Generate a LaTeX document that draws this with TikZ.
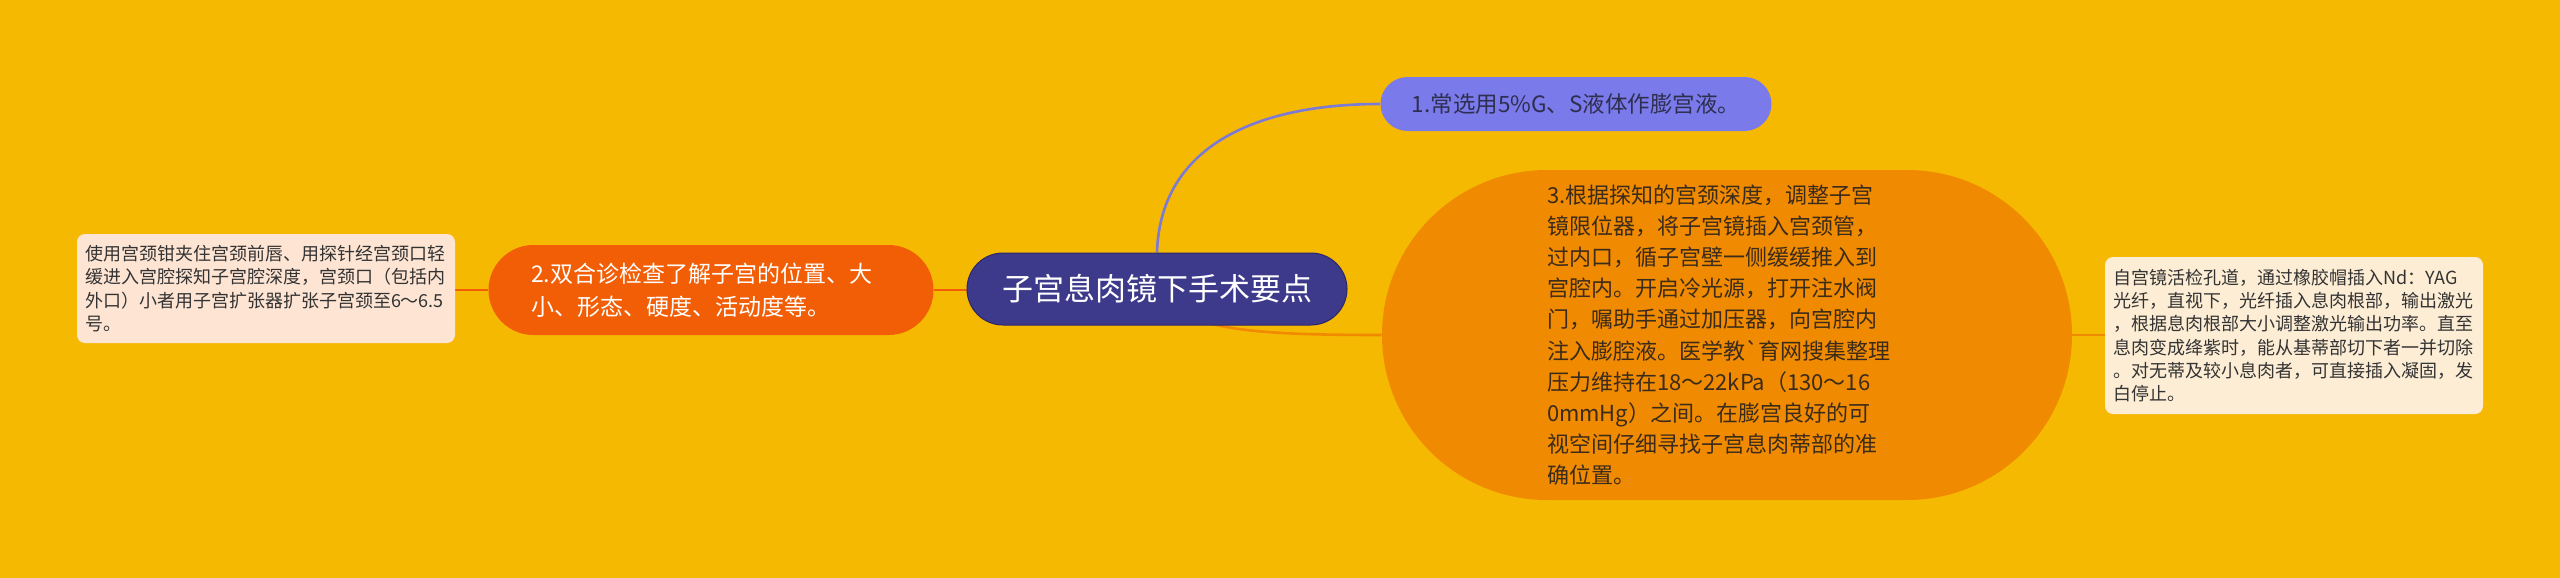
\documentclass[tikz,border=0pt]{standalone}
\usepackage{fontspec}
\newfontfamily\cjk{Noto Sans CJK SC}
\pgfdeclarelayer{bottom}
\pgfdeclarelayer{background}
\pgfsetlayers{bottom,background,main}
\definecolor{bg}{HTML}{F6B902}
\definecolor{rootc}{HTML}{3D3A8C}
\definecolor{rootb}{HTML}{2C2868}
\definecolor{onec}{HTML}{7A7AEA}
\definecolor{onet}{HTML}{2E2E50}
\definecolor{onel}{HTML}{7B7BD6}
\definecolor{twoc}{HTML}{F25E05}
\definecolor{threec}{HTML}{F08A00}
\definecolor{threet}{HTML}{3B2B1A}
\definecolor{leafl}{HTML}{FDE4D3}
\definecolor{leafr}{HTML}{FDEDD5}
\definecolor{leaft}{HTML}{333333}
\tikzset{
  pill/.style={shape=rectangle, inner sep=0pt, align=left},
  leafbox/.style={shape=rectangle, inner sep=0pt, rounded corners=4pt, align=left, text=leaft,
    text width=181pt, minimum width=189pt,
    font=\cjk\fontsize{9pt}{11.65pt}\selectfont},
  conn/.style={line width=1.3pt}
}
\begin{document}
\begin{tikzpicture}[x=0.5pt,y=-0.5pt]
\begin{pgfonlayer}{bottom}
\fill[bg] (0,0) rectangle (2560,578);
\end{pgfonlayer}
\useasboundingbox (0,0) rectangle (2560,578);

\node[pill, fill=rootc, draw=rootb, line width=0.5pt, minimum width=190pt, minimum height=36pt,
  rounded corners=18pt, text=white, align=center,
  font=\cjk\fontsize{15.5pt}{18pt}\selectfont] (root) at (1157,289) {子宫息肉镜下手术要点};

\node[pill, fill=onec, minimum width=195.5pt, minimum height=27pt, rounded corners=13.5pt,
  text=onet, align=center, font=\cjk\fontsize{11.25pt}{14pt}\selectfont] (n1) at (1576,104)
  {1.常选用5\%G、S液体作膨宫液。};

\node[pill, fill=twoc, minimum width=222.5pt, minimum height=45pt, rounded corners=22.5pt,
  text=white, text width=180pt, font=\cjk\fontsize{11.5pt}{16.5pt}\selectfont] (n2) at (711,290)
  {2.双合诊检查了解子宫的位置、大\\小、形态、硬度、活动度等。};

\node[pill, fill=threec, minimum width=345pt, minimum height=165pt, rounded corners=82.5pt,
  text=threet, text width=180pt, font=\cjk\fontsize{11pt}{15.6pt}\selectfont] (n3) at (1727,335)
  {3.根据探知的宫颈深度，调整子宫\\
   镜限位器，将子宫镜插入宫颈管，\\
   过内口，循子宫壁一侧缓缓推入到\\
   宫腔内。开启冷光源，打开注水阀\\
   门，嘱助手通过加压器，向宫腔内\\
   注入膨腔液。医学教\textasciigrave 育网搜集整理\\
   压力维持在18～22kPa（130～16\\
   0mmHg）之间。在膨宫良好的可\\
   视空间仔细寻找子宫息肉蒂部的准\\
   确位置。};

\node[leafbox, fill=leafl, minimum height=54.5pt] (l2) at (266,288.5)
  {使用宫颈钳夹住宫颈前唇、用探针经宫颈口轻\\
   缓进入宫腔探知子宫腔深度，宫颈口（包括内\\
   外口）小者用子宫扩张器扩张子宫颈至6～6.5\\
   号。};

\node[leafbox, fill=leafr, minimum height=78.5pt] (l3) at (2294,335.5)
  {自宫镜活检孔道，通过橡胶帽插入Nd：YAG\\
   光纤，直视下，光纤插入息肉根部，输出激光\\
   ，根据息肉根部大小调整激光输出功率。直至\\
   息肉变成绛紫时，能从基蒂部切下者一并切除\\
   。对无蒂及较小息肉者，可直接插入凝固，发\\
   白停止。};

\begin{pgfonlayer}{background}
\draw[conn, onel] (root.north) .. controls (1160,150) and (1250,104) .. (n1.west);
\draw[conn, twoc] (root.west |- n2.east) -- (n2.east);
\draw[conn, twoc] (n2.west) -- (l2.east |- n2.west);
\draw[conn, threec] (root.center) .. controls (1180,330) and (1250,335) .. (n3.west);
\draw[conn, threec] (n3.east) -- (l3.west |- n3.east);
\end{pgfonlayer}
\end{tikzpicture}
\end{document}
